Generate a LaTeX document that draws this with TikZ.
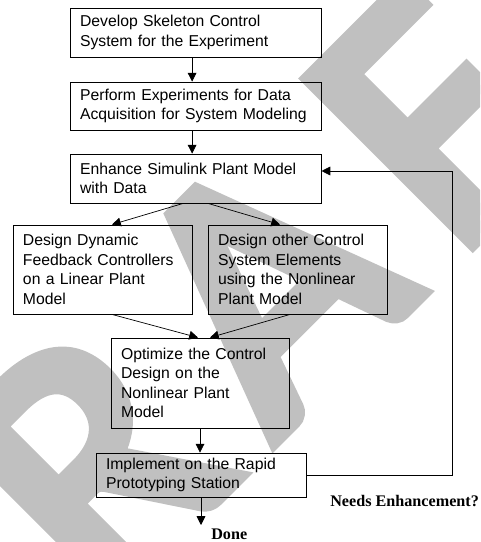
\documentclass[tikz,border=0pt]{standalone}
\usepackage{fontspec}
\setmainfont{Liberation Serif}
\setsansfont{Liberation Sans}
\newfontfamily\wmfont[FakeBold=5]{Carlito}
\usetikzlibrary{arrows.meta}
\definecolor{wmgray}{RGB}{192,192,192}

\begin{document}
\begin{tikzpicture}[
    box/.style={rectangle,draw,line width=0.6pt,align=left,inner xsep=0.25cm,inner ysep=2pt,font=\sffamily\fontsize{11.2}{13.9}\selectfont},
    arr/.style={-{Triangle[length=0.22cm,width=0.22cm]},line width=0.5pt},
    lbl/.style={font=\rmfamily\bfseries\fontsize{11.5}{13}\selectfont,inner sep=0pt}]

    \useasboundingbox (0,0) rectangle (12,-13.55);
    \clip (0,0) rectangle (12,-13.55);

    % watermark behind everything
    \node[text=wmgray,font=\wmfont\fontsize{254}{254}\selectfont,rotate=45,inner sep=0pt,anchor=base west] at (-2.22,-20.05) (draft) {D\kern0.14em R\kern0.14em A\kern0.14em F\kern0.14em T};

    \node[box,text width=5.775cm,minimum height=1.225cm] at (4.89,-0.8125) (skeleton) {Develop Skeleton Control\\System for the Experiment};
    \node[box,text width=5.775cm,minimum height=1.2cm] at (4.89,-2.65) (experiments) {Perform Experiments for Data\\Acquisition for System Modeling};
    \node[box,text width=5.775cm,minimum height=1.225cm] at (4.89,-4.4625) (enhance) {Enhance Simulink Plant Model\\with Data};

    % two design branches
    \node[box,text width=3.975cm,minimum height=2.225cm] at (2.5625,-6.7375) (linear) {Design Dynamic\\Feedback Controllers\\on a Linear Plant\\Model};
    \node[box,text width=3.975cm,minimum height=2.225cm] at (7.4375,-6.7375) (other) {Design other Control\\System Elements\\using the Nonlinear\\Plant Model};

    \node[box,text width=3.95cm,minimum height=2.25cm] at (5.0,-9.575) (optimize) {Optimize the Control\\Design on the\\Nonlinear Plant\\Model};
    \node[box,text width=4.75cm,minimum height=1.1cm] at (5.025,-11.875) (implement) {Implement on the Rapid\\Prototyping Station};

    \node[lbl,anchor=west] at (5.275,-13.35) (done) {Done};
    \node[lbl,anchor=east] at (11.98,-12.525) (needs) {Needs Enhancement?};

    \coordinate (donetip) at (5.025,-13.125);
    \coordinate (fbcorner) at (11.3,-11.875);

    % connectors
    \draw[arr] ([xshift=-0.0875cm]skeleton.south) -- ([xshift=-0.0875cm]experiments.north);
    \draw[arr] ([xshift=-0.0875cm]experiments.south) -- ([xshift=-0.0875cm]enhance.north);
    \draw[arr] ([xshift=-0.3125cm]enhance.south) -- ([xshift=0.2375cm]linear.north);
    \draw[arr] ([xshift=0.3125cm]enhance.south) -- ([xshift=-0.4375cm]other.north);
    \draw[arr] ([xshift=0.2375cm]linear.south) -- ([xshift=-0.05cm]optimize.north);
    \draw[arr] ([xshift=-0.1875cm]other.south) -- ([xshift=0.25cm]optimize.north);
    \draw[arr] (optimize.south) -- (optimize.south |- implement.north);
    \draw[arr] (implement.south) -- (donetip);

    % feedback loop
    \draw[arr] (implement.east) -- (fbcorner) |- ([yshift=0.1875cm]enhance.east);
\end{tikzpicture}
\end{document}
